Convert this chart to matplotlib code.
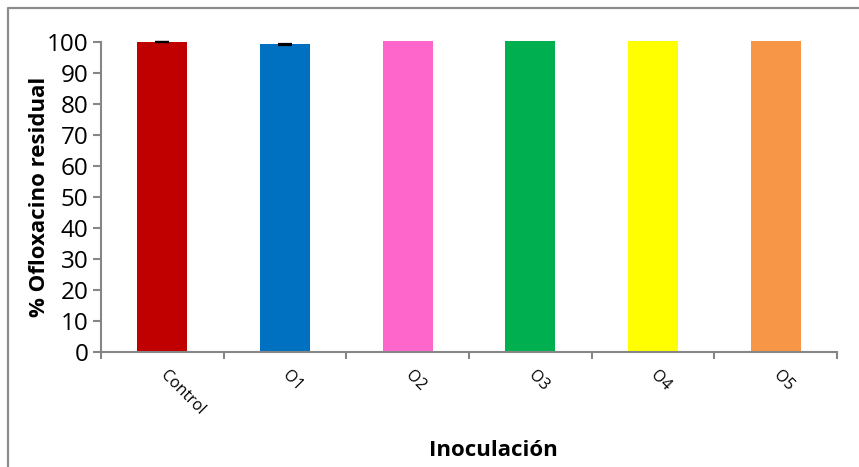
import matplotlib

matplotlib.use("Agg")
import matplotlib.pyplot as plt
import matplotlib.lines as mlines
import numpy as np

plt.rcParams["font.family"] = ["Open Sans", "DejaVu Sans"]

# Ofloxacino residual por inoculacion
categorias = ["Control", "O1", "O2", "O3", "O4", "O5"]
residual = [100.0, 99.3, 100.3, 100.3, 100.3, 100.3]
error = [0.1, 0.15, 0.0, 0.0, 0.0, 0.0]
colores = ["#C00000", "#0070C0", "#FF66CC", "#00B050", "#FFFF00", "#F79646"]

gris = "#868686"

fig = plt.figure(figsize=(8.59, 4.67), dpi=100)
ax = fig.add_axes([0.1176, 0.2463, 0.8568, 0.6638])

x = np.arange(len(categorias))
ax.bar(x, residual, width=0.41, color=colores, clip_on=False, zorder=2)
for xi, v, e in zip(x, residual, error):
    if e > 0:
        ax.errorbar(xi, v, yerr=e, fmt="none", ecolor="black", elinewidth=1.2,
                    capsize=4.7, capthick=1.6, clip_on=False, zorder=3)

ax.set_xlim(-0.5, len(categorias) - 0.5)
ax.set_ylim(0, 100)
ax.set_yticks(np.arange(0, 101, 10))
ax.tick_params(axis="y", labelsize=17.5, length=6, width=1.5, color=gris, pad=3)

# etiquetas centradas, marcas en los limites de cada categoria
ax.set_xticks(x)
ax.set_xticklabels(categorias, rotation=-45, rotation_mode="anchor",
                   ha="left", va="center", fontsize=11.5)
ax.tick_params(axis="x", which="major", length=0, pad=15)
ax.set_xticks(np.arange(-0.5, len(categorias), 1.0), minor=True)
ax.tick_params(axis="x", which="minor", length=5, width=1.5, color=gris)

for s in ["top", "right"]:
    ax.spines[s].set_visible(False)
for s in ["left", "bottom"]:
    ax.spines[s].set_color(gris)
    ax.spines[s].set_linewidth(1.5)

# el titulo del eje queda encima de las etiquetas, como en Excel
ax.set_ylabel("% Ofloxacino residual", fontsize=16, fontweight="bold")
ax.yaxis.set_label_coords(-0.069, 0.5)
fig.text(0.574, 0.036, "Inoculación", fontsize=16, fontweight="bold",
         ha="center", va="center")

# borde del grafico
bx = 7.5 / 859
by = 1 - 7.5 / 467
fig.add_artist(mlines.Line2D([bx, bx, 1.0], [0.0, by, by], color="#8C8C8C",
                             linewidth=1.6, transform=fig.transFigure))

fig.savefig("out.png", dpi=100)
plt.close(fig)
